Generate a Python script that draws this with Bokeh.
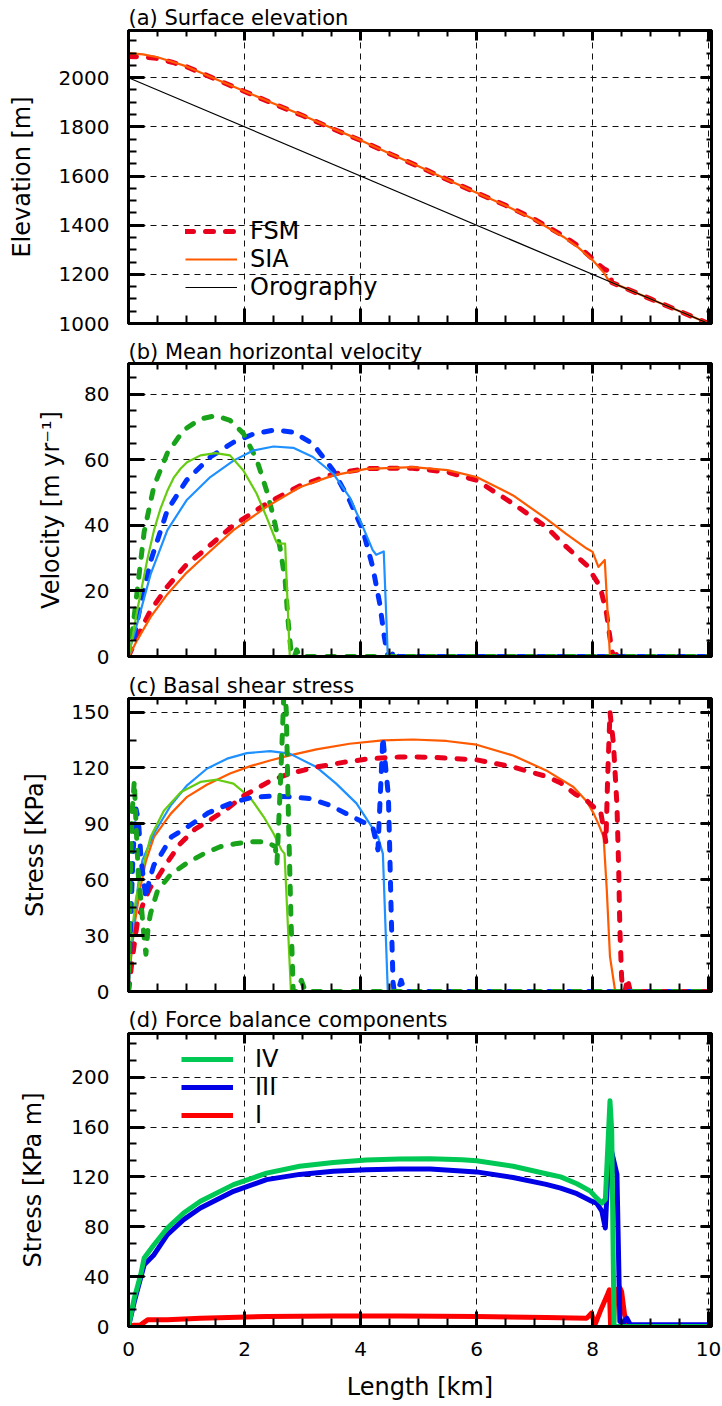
from bokeh.plotting import figure
from bokeh.models import (Range1d, LinearAxis, SingleIntervalTicker,
                          CustomJSTickFormatter, Legend, LegendItem)
from bokeh.layouts import column
from bokeh.embed import file_html
from bokeh.resources import INLINE

FONT = "DejaVu Sans"

# ---------------- data ----------------
# (a) surface elevation [m] vs length [km]
a_fsm_x = [0, 0.25, 0.5, 0.75, 1, 1.5, 2, 2.5, 3, 3.5, 4, 4.5, 5, 5.5, 6, 6.5, 7, 7.5, 7.75, 8, 8.1, 8.2, 8.3, 8.33, 8.5, 9, 9.5, 10]
a_fsm_h = [2086, 2085, 2078, 2063, 2045, 1994, 1944, 1894, 1846, 1794, 1745, 1691, 1639, 1585, 1532, 1481, 1424, 1356, 1316, 1263, 1240, 1222, 1210, 1167, 1150, 1100, 1050, 1000]
a_sia_x = [0, 0.25, 0.5, 0.75, 1, 1.5, 2, 2.5, 3, 3.5, 4, 4.5, 5, 5.5, 6, 6.5, 7, 7.5, 7.75, 8, 8.1, 8.2, 8.25, 8.3, 8.5, 9, 9.5, 10]
a_sia_h = [2100, 2095, 2083, 2065, 2046, 1995, 1945, 1895, 1847, 1795, 1746, 1692, 1640, 1585, 1532, 1480, 1422, 1352, 1310, 1258, 1232, 1205, 1185, 1170, 1150, 1100, 1050, 1000]
a_oro_x = [0, 10]
a_oro_h = [2000, 1000]

# (b) mean horizontal velocity [m/yr]
b_fsm_long_x = [0, 0.05, 0.15, 0.38, 0.67, 1.0, 1.24, 1.81, 2.38, 2.95, 3.53, 4.1, 4.9, 5.5, 6.0, 6.63, 7.2, 7.55, 7.9, 8.13, 8.24, 8.33, 8.36, 8.45, 8.5, 8.56, 10]
b_fsm_long = [0, 2, 6, 14, 21.3, 28, 31.4, 40, 46.6, 52, 55.6, 57.3, 57.4, 56.2, 53.7, 46.6, 39.5, 33.4, 27.8, 21.3, 13.2, 2, 0, 1, 1.5, 0, 0]
b_sia_long_x = [0, 0.05, 0.15, 0.38, 0.67, 1.0, 1.24, 1.81, 2.38, 2.95, 3.53, 4.1, 4.9, 5.5, 6.0, 6.63, 7.2, 7.55, 7.9, 8.0, 8.1, 8.21, 8.3, 10]
b_sia_long = [0, 1.5, 5, 12, 19, 25.5, 29.4, 38.5, 45.6, 51.6, 55.2, 57.2, 57.7, 56.8, 54.7, 49.1, 42, 37.3, 32.9, 31.9, 27.3, 29.4, 0, 0]
b_fsm_mid_x = [0, 0.1, 0.21, 0.38, 0.67, 1.0, 1.41, 1.81, 2.15, 2.5, 2.84, 3.18, 3.53, 3.81, 4.04, 4.21, 4.33, 4.41, 4.47, 4.53, 4.58, 4.65, 10]
b_fsm_mid = [0, 6, 16, 29, 44.6, 53.7, 60.8, 65.3, 67.8, 69, 68.4, 64.8, 56.7, 47.6, 38.5, 27.3, 16.2, 6, 0, 0, 2, 0, 0]
b_sia_mid_x = [0, 0.05, 0.15, 0.38, 0.67, 1.0, 1.41, 1.81, 2.15, 2.5, 2.84, 3.18, 3.53, 3.81, 4.04, 4.21, 4.27, 4.4, 4.47, 10]
b_sia_mid = [0, 4, 10, 25, 38.5, 47.6, 54.7, 59.7, 62.8, 64, 63.6, 60.8, 55.7, 48.6, 39.5, 32.4, 31, 32, 0, 0]
b_fsm_short_x = [0, 0.07, 0.15, 0.27, 0.44, 0.67, 0.95, 1.24, 1.5, 1.75, 1.98, 2.21, 2.38, 2.5, 2.61, 2.7, 2.75, 2.81, 2.86, 2.9, 2.95, 10]
b_fsm_short = [0, 8, 20, 38, 52, 62, 69, 72.4, 73.4, 72, 68, 60, 50.6, 42.5, 33.4, 23.3, 11, 0, 0, 2, 0, 0]
b_sia_short_x = [0, 0.05, 0.15, 0.33, 0.44, 0.55, 0.67, 0.78, 0.9, 1.01, 1.24, 1.5, 1.75, 1.98, 2.21, 2.38, 2.55, 2.6, 2.7, 2.78, 10]
b_sia_short = [0, 4, 14, 30, 38.5, 45, 50.5, 54.5, 57.3, 59.2, 61.3, 62, 61.3, 56.7, 49.6, 42.5, 34.9, 34.4, 34.4, 0, 0]

# (c) basal shear stress [KPa]
c_fsm_long_x = [0, 0.03, 0.07, 0.15, 0.27, 0.38, 0.5, 0.62, 0.88, 1.14, 1.35, 1.7, 1.98, 2.24, 2.44, 2.78, 3.24, 3.7, 4.16, 4.67, 5.2, 5.48, 6.0, 6.63, 7.2, 7.45, 7.7, 7.9, 8.02, 8.13, 8.2, 8.23, 8.26, 8.3, 8.36, 8.42, 8.45, 8.47, 8.5, 8.52, 8.56, 8.6, 8.65, 10]
c_fsm_long = [0, 8, 18.8, 36.6, 49, 56, 61, 67, 79, 87, 91, 98, 105, 109.5, 113, 117, 120.5, 123, 125, 125.9, 125.8, 125.3, 124.4, 120.5, 115.5, 112, 106, 102.5, 99, 98, 86, 80, 115, 150, 133, 100, 66, 34, 8, 0, 0, 7, 0, 0]
c_sia_long_x = [0, 0.05, 0.1, 0.2, 0.3, 0.44, 0.73, 1.01, 1.35, 1.75, 2.1, 2.44, 2.78, 3.24, 3.81, 4.38, 4.9, 5.48, 6.0, 6.63, 7.2, 7.67, 7.9, 8.02, 8.1, 8.19, 8.245, 8.3, 8.39, 10]
c_sia_long = [0, 20, 35, 55, 70, 83, 95.5, 104.5, 111, 117, 121, 124, 126.8, 130, 133, 134.8, 135.3, 134.5, 132.5, 126.7, 118.7, 109.8, 102, 95.5, 90, 83, 54.5, 18.75, 0, 0]
c_fsm_mid_x = [0, 0.04, 0.08, 0.13, 0.17, 0.22, 0.3, 0.36, 0.44, 0.55, 0.74, 1.0, 1.38, 1.81, 2.15, 2.44, 2.78, 3.13, 3.47, 3.81, 4.04, 4.21, 4.3, 4.34, 4.385, 4.44, 4.48, 4.5, 4.53, 4.56, 4.58, 4.64, 4.7, 4.76, 10]
c_fsm_mid = [0, 40, 75, 98, 92, 70, 50, 60, 68, 73, 83, 88, 96, 101.7, 104.3, 104.8, 104.5, 103.6, 100, 94.6, 91, 88.4, 76, 105, 136.6, 118, 105, 80, 40, 5, 0, 0, 6, 0, 0]
c_sia_mid_x = [0, 0.05, 0.1, 0.17, 0.24, 0.44, 0.73, 1.01, 1.35, 1.7, 2.04, 2.44, 2.78, 3.24, 3.58, 3.93, 4.16, 4.3, 4.385, 4.47, 10]
c_sia_mid = [0, 22, 40, 58, 70.5, 84.8, 100, 110.7, 119.6, 125, 128, 129, 127.7, 120.5, 111.6, 101, 90, 83, 74, 0, 0]
c_fsm_short_x = [0, 0.03, 0.06, 0.1, 0.13, 0.17, 0.21, 0.26, 0.3, 0.34, 0.38, 0.5, 0.73, 1.01, 1.3, 1.58, 1.87, 2.15, 2.38, 2.53, 2.56, 2.63, 2.69, 2.72, 2.76, 2.8, 2.84, 2.9, 2.98, 3.05, 10]
c_fsm_short = [0, 60, 95, 113, 90, 62, 50, 32, 20, 35, 42, 54, 63, 69, 74, 77.7, 79.5, 80.4, 80.4, 77.7, 69, 120, 170, 150, 90, 40, 0, 0, 6, 0, 0]
c_sia_short_x = [0, 0.03, 0.07, 0.13, 0.21, 0.38, 0.61, 0.9, 1.24, 1.53, 1.81, 2.1, 2.33, 2.5, 2.64, 2.69, 2.8, 10]
c_sia_short = [0, 20, 35, 50, 62, 83, 97, 107, 112.5, 113.7, 111.6, 104, 93.8, 84.8, 75.9, 74, 0, 0]

# (d) force balance components [KPa m]
d_iv_x = [0, 0.1, 0.21, 0.27, 0.44, 0.67, 0.95, 1.24, 1.81, 2.38, 2.95, 3.53, 4.1, 4.67, 5.2, 5.75, 6.0, 6.63, 7.2, 7.45, 7.73, 7.96, 8.07, 8.16, 8.22, 8.3, 8.33, 8.37, 10]
d_iv = [0, 22.8, 41.5, 55, 65.6, 79, 91, 100.4, 113.8, 123, 128.5, 131.5, 133.5, 134.3, 134.5, 133.8, 133, 128.5, 122.5, 120, 114.5, 108.6, 103, 99, 102, 181, 157, 0, 0]
d_iii_x = [0, 0.1, 0.27, 0.44, 0.67, 0.95, 1.24, 1.81, 2.38, 2.95, 3.53, 4.1, 4.67, 5.2, 6.0, 6.63, 7.2, 7.45, 7.73, 7.96, 8.07, 8.16, 8.22, 8.27, 8.3, 8.42, 8.47, 8.53, 8.59, 8.65, 10]
d_iii = [0, 20, 49.5, 57.6, 73.6, 85.7, 95, 108.4, 117.8, 122, 124.5, 125.8, 126.3, 126.3, 124, 119.5, 114, 111, 106.5, 101, 99, 92.5, 79, 130, 146, 122, 4, 3, 6.7, 1.5, 1.5]
d_i_x = [0, 0.1, 0.21, 0.33, 0.67, 1.24, 2.38, 3.53, 4.67, 6.0, 7.2, 7.9, 7.98, 8.04, 8.13, 8.27, 8.29, 8.31, 8.36, 8.39, 8.47, 8.5, 8.55, 8.6, 10]
d_i = [0, 1, 1.3, 5.4, 5.4, 6.7, 8, 8.5, 8.5, 8, 7.2, 6.7, 10.7, 1.3, 12, 27, 29.5, 1, 1, 29, 31, 28, 10, 1, 0]

# ---------------- styling helpers ----------------
RED = "#e8001c"
ORANGE = "#ff5a00"
GREEN_D = "#18a31a"
GREEN_S = "#66cc11"
BLUE_D = "#0033ff"
BLUE_S = "#1e90ff"
DASH = "8 12"


def blank():
    return CustomJSTickFormatter(code="return ''")


def style_axis(ax, major_in, minor_in):
    ax.axis_line_width = 3
    ax.axis_line_color = "black"
    ax.major_tick_in = major_in
    ax.major_tick_out = 0
    ax.minor_tick_in = minor_in
    ax.minor_tick_out = 0
    ax.major_tick_line_width = 3
    ax.minor_tick_line_width = 2
    ax.major_tick_line_color = "black"
    ax.minor_tick_line_color = "black"
    ax.major_label_text_font = FONT
    ax.major_label_text_font_size = "20px"
    ax.major_label_text_color = "black"
    ax.axis_label_text_font = FONT
    ax.axis_label_text_font_size = "24px"
    ax.axis_label_text_font_style = "normal"
    ax.axis_label_text_color = "black"


def make_fig(ymin, ymax, ytick, yminor, ylabel, title, top, bottom,
             t_standoff, l_standoff, show_x):
    p = figure(frame_width=583, frame_height=293,
               min_border_left=128, min_border_right=11,
               min_border_top=top, min_border_bottom=bottom,
               x_range=Range1d(0, 10.05), y_range=Range1d(ymin, ymax),
               output_backend="svg", toolbar_location=None, tools="")
    p.outline_line_color = "black"
    p.outline_line_width = 3
    p.background_fill_color = "white"
    p.border_fill_color = "white"

    xt = SingleIntervalTicker(interval=2, num_minor_ticks=4)
    yt = SingleIntervalTicker(interval=ytick, num_minor_ticks=yminor)

    xa = p.xaxis[0]
    xa.ticker = xt
    style_axis(xa, 15, 8)
    if show_x:
        xa.axis_label = "Length [km]"
        xa.major_label_standoff = 15
        xa.axis_label_standoff = 14
    else:
        xa.formatter = blank()
        xa.major_label_text_font_size = "1px"
        xa.major_label_standoff = 0

    ya = p.yaxis[0]
    ya.ticker = yt
    style_axis(ya, 16, 8)
    ya.axis_label = ylabel
    ya.major_label_standoff = 19
    ya.axis_label_standoff = l_standoff

    top_ax = LinearAxis(ticker=xt, formatter=blank())
    style_axis(top_ax, 10, 6)
    top_ax.major_label_text_font_size = "1px"
    top_ax.major_label_standoff = 0
    p.add_layout(top_ax, "above")

    right_ax = LinearAxis(ticker=yt, formatter=blank())
    style_axis(right_ax, 11, 5)
    right_ax.major_label_text_font_size = "1px"
    right_ax.major_label_standoff = 0
    p.add_layout(right_ax, "right")

    for g in (p.xgrid, p.ygrid):
        g.grid_line_color = "#111111"
        g.grid_line_dash = "6 5"
        g.grid_line_width = 1

    p.title.text = title
    p.title.text_font = FONT
    p.title.text_font_size = "21px"
    p.title.text_font_style = "normal"
    p.title.text_color = "black"
    p.title.align = "left"
    p.title.standoff = t_standoff
    return p


def legend(items, loc, standoff):
    return Legend(items=items, location=loc, glyph_width=52, glyph_height=24,
                  label_height=24, label_standoff=standoff, spacing=0,
                  padding=0, margin=0, background_fill_alpha=0,
                  border_line_color=None, label_text_font=FONT,
                  label_text_font_size="24px", label_text_line_height=0.9,
                  label_text_color="black")


def dashed(p, x, y, color):
    return p.line(x, y, line_color=color, line_width=5, line_dash=DASH,
                  line_cap="round", line_join="round")


def solid(p, x, y, color, w=2.2):
    return p.line(x, y, line_color=color, line_width=w, line_join="round")


# ---------------- (a) ----------------
pa = make_fig(1000, 2192, 200, 4, "Elevation [m]", "(a) Surface elevation",
              30, 12, 1, 20, False)
r_fsm = dashed(pa, a_fsm_x, a_fsm_h, RED)
r_sia = solid(pa, a_sia_x, a_sia_h, ORANGE)
r_oro = solid(pa, a_oro_x, a_oro_h, "black", 1.2)
pa.add_layout(legend([LegendItem(label="FSM", renderers=[r_fsm]),
                      LegendItem(label="SIA", renderers=[r_sia]),
                      LegendItem(label="Orography", renderers=[r_oro])],
                     (57, 22), 13))

# ---------------- (b) ----------------
pb = make_fig(0, 89.3, 20, 4, "Velocity [m yr\u207b\u00b9]",
              "(b) Mean horizontal velocity", 28, 12, 0, 16, False)
dashed(pb, b_fsm_long_x, b_fsm_long, RED)
dashed(pb, b_fsm_mid_x, b_fsm_mid, BLUE_D)
dashed(pb, b_fsm_short_x, b_fsm_short, GREEN_D)
solid(pb, b_sia_long_x, b_sia_long, ORANGE)
solid(pb, b_sia_mid_x, b_sia_mid, BLUE_S)
solid(pb, b_sia_short_x, b_sia_short, GREEN_S)

# ---------------- (c) ----------------
pc = make_fig(0, 157.3, 30, 2, "Stress [KPa]", "(c) Basal shear stress",
              30, 12, 1, 19, False)
solid(pc, c_sia_long_x, c_sia_long, ORANGE)
solid(pc, c_sia_mid_x, c_sia_mid, BLUE_S)
solid(pc, c_sia_short_x, c_sia_short, GREEN_S)
dashed(pc, c_fsm_long_x, c_fsm_long, RED)
dashed(pc, c_fsm_mid_x, c_fsm_mid, BLUE_D)
dashed(pc, c_fsm_short_x, c_fsm_short, GREEN_D)

# ---------------- (d) ----------------
pd_ = make_fig(0, 235, 40, 3, "Stress [KPa m]", "(d) Force balance components",
               30, 80, 3, 21, True)
r_i = pd_.line(d_i_x, d_i, line_color="#ff0000", line_width=5, line_join="round")
r_iii = pd_.line(d_iii_x, d_iii, line_color="#0000e6", line_width=5, line_join="round")
r_iv = pd_.line(d_iv_x, d_iv, line_color="#00c855", line_width=5, line_join="round")
pd_.add_layout(legend([LegendItem(label="IV", renderers=[r_iv]),
                       LegendItem(label="III", renderers=[r_iii]),
                       LegendItem(label="I", renderers=[r_i])],
                      (53, 197), 22))

layout = column(pa, pb, pc, pd_, spacing=0)
open("out.html", "w").write(file_html(layout, INLINE))
